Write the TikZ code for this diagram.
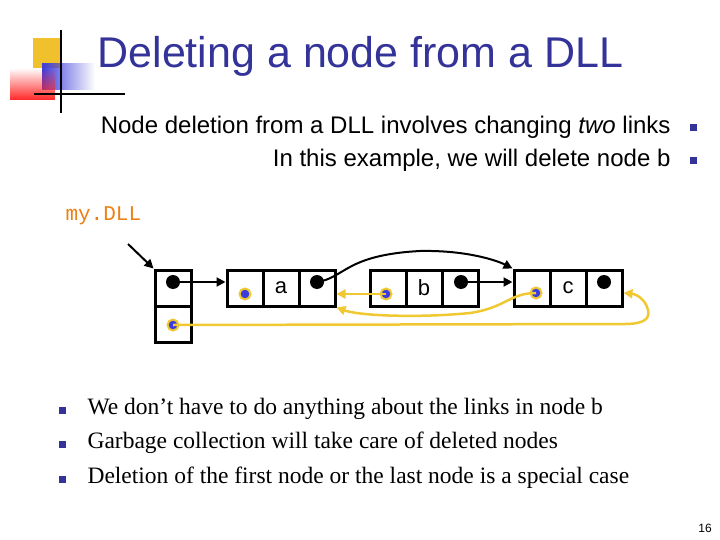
\documentclass[tikz,border=0pt]{standalone}
\usepackage{fontspec}
\setsansfont{Liberation Sans}
\setmonofont{Liberation Mono}
\setmainfont{Liberation Serif}
\usetikzlibrary{arrows.meta,fadings}
\definecolor{ttl}{RGB}{51,51,153}
\definecolor{ylw}{RGB}{240,200,50}
\definecolor{blu}{RGB}{60,60,220}
\begin{document}
\begin{tikzpicture}[x=1pt,y=-1pt,
  cell/.style={draw,line width=3pt,minimum width=36pt,minimum height=36pt,inner sep=0pt,font=\sffamily\fontsize{22}{22}\selectfont},
  bdot/.style={circle,fill=black,minimum size=14pt,inner sep=0pt},
  ydot/.style={circle,fill=blu,draw=ylw,line width=2pt,minimum size=11pt,inner sep=0pt},
  blk/.style={line width=2pt,-{Triangle[length=9pt,width=9pt]}},
  yel/.style={ylw,line width=2.5pt,-{Triangle[length=9pt,width=9pt]}},
  bul/.style={fill=ttl,minimum size=7pt,inner sep=0pt}]
\useasboundingbox (0,0) rectangle (720,540);
% logo
\fill[ylw!90!orange] (33,38) rectangle (62,68);
\fill[blu,path fading=east] (42,63) rectangle (95,90);
\fill[red!85,path fading=north] (10,68) rectangle (55,100);
\draw[line width=1.8pt] (61,30) -- (61,113);
\draw[line width=1.8pt] (34,94) -- (125,94);
\node[anchor=west,text=ttl,font=\sffamily\fontsize{43}{43}\selectfont] (title) at (94,56) {Deleting a node from a DLL};
\node[anchor=east,font=\sffamily\fontsize{24}{24}\selectfont] (l1) at (674,127) {Node deletion from a DLL involves changing \textit{two} links};
\node[anchor=east,font=\sffamily\fontsize{24}{24}\selectfont] (l2) at (674,160) {In this example, we will delete node b};
\node[bul] (s1) at (693,128) {};
\node[bul] (s2) at (693,161) {};
\node[anchor=west,text=orange!70!brown,font=\ttfamily\fontsize{21}{21}\selectfont] (my) at (62,216) {my.DLL};
% cells
\node[cell] (h1) at (173,288) {};
\node[cell] (h2) at (173,324) {};
\node[cell] (a1) at (245,288) {};
\node[cell] (a2) at (281,288) {a};
\node[cell] (a3) at (317,288) {};
\node[cell] (b1) at (388,288) {};
\node[cell] (b2) at (424,288) {b};
\node[cell] (b3) at (460,288) {};
\node[cell] (c1) at (532,288) {};
\node[cell] (c2) at (568,288) {c};
\node[cell] (c3) at (604,288) {};
\node[bdot] (dh) at (173,282) {};
\node[bdot] (da) at (317,282) {};
\node[bdot] (db) at (461,282) {};
\node[bdot] (dc) at (604,282) {};
\node[ydot] (ya) at (245,294) {};
\node[ydot] (yb) at (386,294) {};
\node[ydot] (yc) at (536,293) {};
\node[ydot] (yh) at (173,325) {};
\coordinate (pstart) at (128,244);
\draw[blk] (pstart) -- (h1.north west);
\draw[blk] (dh.center) -- (a1.west|-dh);
\draw[blk] (db.center) -- (c1.west|-db);
\draw[blk] (da.center) .. controls (345,278) and (345,255) .. (420,251) .. controls (470,250) and (500,262) .. (c1.north west);
\draw[yel] (yb.center) -- (a3.east|-yb);
\draw[yel] (yc.center) .. controls (510,293) and (505,308) .. (470,313) .. controls (420,318) and (360,316) .. (a3.south east);
\draw[yel] (yh.center) -- (625,324) .. controls (645,324) and (650,318) .. (648,310) .. controls (645,298) and (635,294) .. (c3.east|-yc);
% bottom bullets
\node[bul] (t1) at (62,410) {};
\node[bul] (t2) at (62,444) {};
\node[bul] (t3) at (62,479) {};
\node[anchor=west,font=\fontsize{23.5}{23.5}\selectfont] (x1) at (84,409) {We don’t have to do anything about the links in node b};
\node[anchor=west,font=\fontsize{23.5}{23.5}\selectfont] (x2) at (84,443) {Garbage collection will take care of deleted nodes};
\node[anchor=west,font=\fontsize{23.5}{23.5}\selectfont] (x3) at (84,478) {Deletion of the first node or the last node is a special case};
\node[font=\sffamily\fontsize{12}{12}\selectfont] (pg) at (705,528) {16};
\end{tikzpicture}
\end{document}
